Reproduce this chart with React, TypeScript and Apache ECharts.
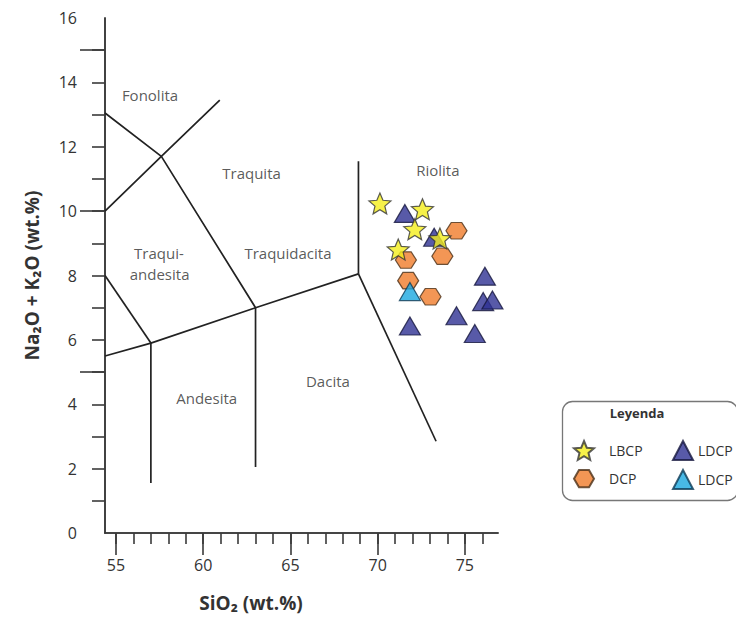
import React, { useEffect, useRef } from 'react';
import * as echarts from 'echarts';

// Axis ranges and ticks
const X_MIN = 54.37;
const X_MAX = 76.9;
const Y_MIN = 0;
const Y_MAX = 16;
const xMinorTicks = [55, 56, 57, 58, 59, 60, 61, 62, 63, 64, 65, 66, 67, 68, 69, 70, 71, 72, 73, 74, 75, 76];
const xMajorTicks = [55, 60, 65, 70, 75];
const xTickLabels = [55, 60, 65, 70, 75];
const yMinorTicks = [1, 2, 3, 4, 5, 6, 7, 8, 9, 10, 11, 12, 13, 14, 15];
const yMajorTicks = [5, 10, 15];
const yTickLabels = [0, 2, 4, 6, 8, 10, 12, 14, 16];

// TAS field boundaries (SiO2, Na2O+K2O)
const boundaryLines: number[][][] = [
  [[54.37, 13.05], [57.6, 11.7], [63, 7]],
  [[54.37, 10.0], [57.6, 11.7], [60.95, 13.45]],
  [[54.37, 8.0], [57, 5.9]],
  [[54.37, 5.5], [57, 5.9], [63, 7], [68.9, 8.05]],
  [[57, 5.9], [57, 1.55]],
  [[63, 7], [63, 2.05]],
  [[68.9, 8.05], [68.9, 11.55]],
  [[68.9, 8.05], [73.35, 2.85]],
];

// Field names and their positions
const fieldNames = ['Fonolita', 'Traquita', 'Traquidacita', 'Traqui-', 'andesita', 'Riolita', 'Andesita', 'Dacita'];
const fieldPos = [[56.95, 13.61], [62.77, 11.18], [64.86, 8.7], [57.46, 8.7], [57.5, 8.05], [73.45, 11.28], [60.2, 4.19], [67.15, 4.72]];

// Samples
const lbcp = [[70.13, 10.24], [72.57, 10.06], [72.13, 9.44], [73.57, 9.15], [71.18, 8.81]];
const dcp = [[74.52, 9.39], [71.62, 8.48], [73.71, 8.6], [71.75, 7.84], [73.03, 7.34]];
const ldcpDark = [[71.56, 9.93], [73.24, 9.19], [76.15, 7.98], [76.05, 7.19], [76.58, 7.24], [74.52, 6.75], [75.57, 6.2], [71.85, 6.43]];
const ldcpLight = [[71.85, 7.5]];

const STAR = 'path://M10,0L12.645,6.36L19.511,6.91L14.28,11.39L15.878,18.09L10,14.5L4.122,18.09L5.72,11.39L0.489,6.91L7.355,6.36Z';
const HEX = 'path://M5,0L15,0L20,8.66L15,17.32L5,17.32L0,8.66Z';

const FONT = '"Open Sans", "Noto Sans", sans-serif';
const AX = '#3a3a3a';

export default function App() {
  const ref = useRef<HTMLDivElement>(null);
  useEffect(() => {
    if (!ref.current) return;
    const chart = echarts.init(ref.current, null, { renderer: 'svg' });
    const grid = { left: 105, right: 238, top: 18, bottom: 84 };
    const baseX = {
      type: 'value', min: X_MIN, max: X_MAX, position: 'bottom',
      splitLine: { show: false },
      axisLine: { show: true, onZero: false, lineStyle: { color: AX, width: 1.6 } },
    };
    const baseY = {
      type: 'value', min: Y_MIN, max: Y_MAX, position: 'left',
      splitLine: { show: false },
      axisLine: { show: true, onZero: false, lineStyle: { color: AX, width: 1.6 } },
    };
    const option: any = {
      animation: false,
      backgroundColor: '#ffffff',
      textStyle: { fontFamily: FONT },
      grid,
      xAxis: [
        {
          ...baseX,
          axisTick: { show: true, length: 11, customValues: xMinorTicks, lineStyle: { color: AX, width: 1.6 } },
          axisLabel: { show: false },
        },
        {
          ...baseX,
          axisTick: { show: true, length: 22, customValues: xMajorTicks, lineStyle: { color: AX, width: 1.6 } },
          axisLabel: { show: true, customValues: xTickLabels, margin: 24, fontSize: 16, color: '#333', fontFamily: FONT },
        },
      ],
      yAxis: [
        {
          ...baseY,
          axisTick: { show: true, length: 13, customValues: yMinorTicks, lineStyle: { color: AX, width: 1.6 } },
          axisLabel: { show: false },
        },
        {
          ...baseY,
          axisTick: { show: true, length: 25, customValues: yMajorTicks, lineStyle: { color: AX, width: 1.6 } },
          axisLabel: { show: true, customValues: yTickLabels, margin: 28, fontSize: 16, color: '#333', fontFamily: FONT },
          name: 'Na₂O + K₂O (wt.%)',
          nameLocation: 'middle',
          nameGap: 64,
          nameRotate: 90,
          nameTextStyle: { fontSize: 19, fontWeight: 'bold', color: '#333', fontFamily: FONT },
        },
      ],
      legend: [
        {
          orient: 'vertical', left: 568, top: 435, itemGap: 8,
          itemWidth: 20, itemHeight: 19,
          data: ['LBCP', 'DCP'],
          textStyle: { fontSize: 14, color: '#333', fontFamily: FONT, padding: [0, 0, 0, 10] },
        },
        {
          orient: 'vertical', left: 667, top: 435, itemGap: 8,
          itemWidth: 20, itemHeight: 19,
          data: ['LDCP', 'LDCP2'],
          formatter: (n: string) => (n === 'LDCP2' ? 'LDCP' : n),
          textStyle: { fontSize: 14, color: '#333', fontFamily: FONT },
        },
      ],
      graphic: [
        {
          type: 'rect', left: 560, top: 399,
          shape: { width: 175, height: 99, r: 10 },
          style: { fill: 'none', stroke: '#777', lineWidth: 1.3 },
        },
        {
          type: 'text', x: 637, y: 413,
          style: { text: 'Leyenda', fontSize: 13, fontWeight: 'bold', fill: '#333', fontFamily: FONT, align: 'center', verticalAlign: 'middle' },
        },
        {
          type: 'text', x: 251, y: 603,
          style: { text: 'SiO₂ (wt.%)', fontSize: 19, fontWeight: 'bold', fill: '#333', fontFamily: FONT, align: 'center', verticalAlign: 'middle' },
        },
      ],
      series: [
        ...boundaryLines.map((pts, i) => ({
          type: 'line', name: 'b' + i, data: pts, showSymbol: false, symbol: 'none',
          lineStyle: { color: '#222', width: 1.7 }, silent: true, z: 2,
        })),
        {
          type: 'scatter', name: 'fields', z: 3,
          symbolSize: 0,
          data: fieldNames.map((n, i) => ({ name: n, value: fieldPos[i] })),
          label: {
            show: true, position: 'inside', formatter: (p: any) => p.name,
            fontSize: 15, color: '#2f2f2f', fontFamily: FONT, lineHeight: 15, align: 'center',
          },
        },
        {
          type: 'scatter', name: 'DCP', data: dcp, symbol: HEX, symbolKeepAspect: true, symbolSize: [21, 19], z: 4,
          itemStyle: { color: '#f07c2a', borderColor: '#4a3018', borderWidth: 1.2 },
        },
        {
          type: 'scatter', name: 'LDCP', data: ldcpDark, symbol: 'triangle', symbolSize: [21, 18], z: 5,
          itemStyle: { color: '#2e3192', borderColor: '#15163d', borderWidth: 1.2 },
        },
        {
          type: 'scatter', name: 'LDCP2', data: ldcpLight, symbol: 'triangle', symbolSize: [21, 18], z: 6,
          itemStyle: { color: '#1aa7e0', borderColor: '#0c3a55', borderWidth: 1.2 },
        },
        {
          type: 'scatter', name: 'LBCP', data: lbcp, symbol: STAR, symbolKeepAspect: true, symbolSize: 22, z: 7,
          itemStyle: { color: '#f4ee1c', borderColor: '#333', borderWidth: 1.2 },
        },
      ],
    };
    chart.setOption(option);
    return () => chart.dispose();
  }, []);
  return <div ref={ref} style={{ position: 'fixed', left: 0, top: 0, width: 736, height: 617 }} />;
}
